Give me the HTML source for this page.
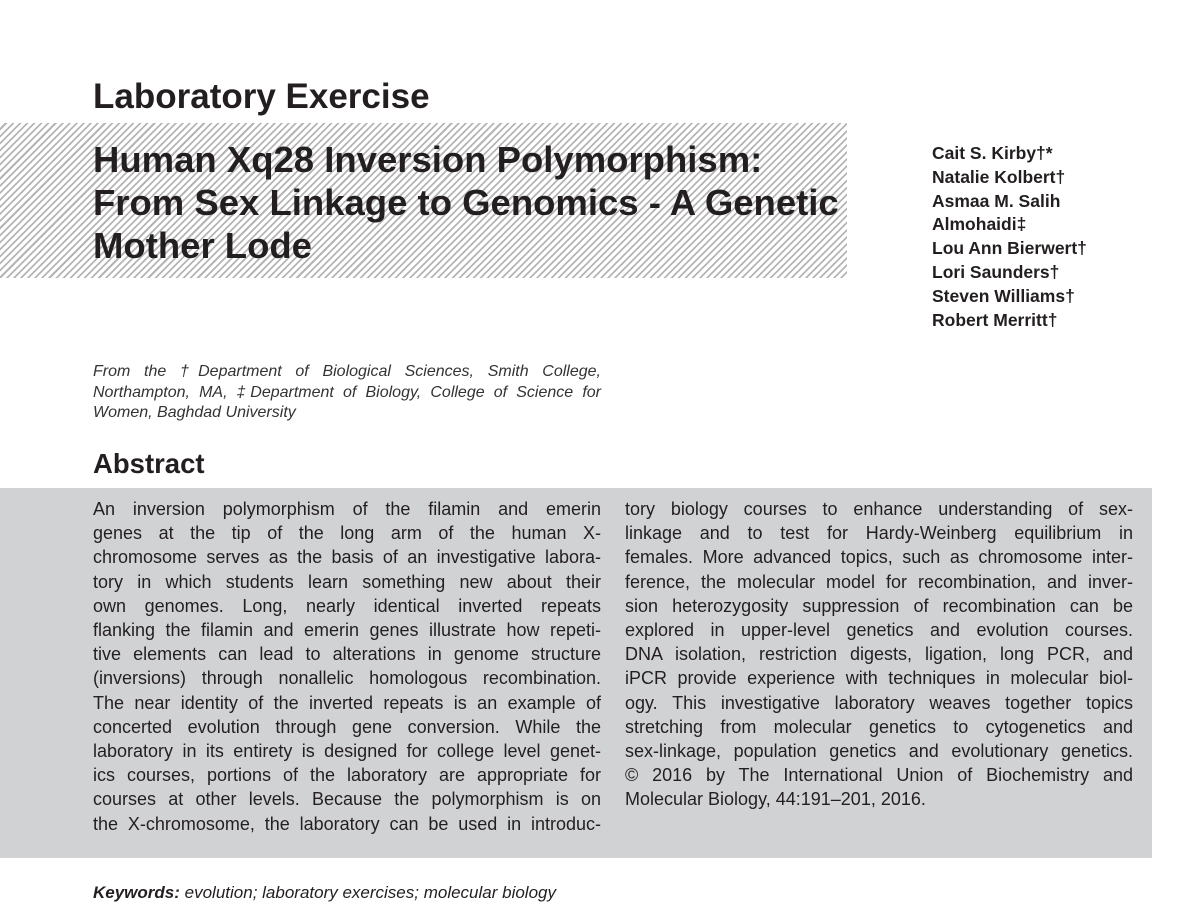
<!DOCTYPE html>
<html><head><meta charset="utf-8">
<style>
body{margin:0;width:1184px;height:912px;background:#fff;position:relative;overflow:hidden;font-family:"Liberation Sans",Arial,sans-serif;color:#231f20}
.abs{position:absolute;white-space:nowrap}
.hatch{position:absolute;left:0;top:123px;width:847px;height:155px;background:repeating-linear-gradient(-45deg,#fff 0,#fff 3.2px,#b5b5b5 3.2px,#b5b5b5 5px)}
.title{font-weight:bold;font-size:36.5px;left:93px;line-height:43px}
.auth{left:932px;font-weight:bold;font-size:17.5px;line-height:23.8px;top:142px}
.aff{left:93px;top:362px;width:508px;font-style:italic;font-size:16px;line-height:20.5px;color:#333;white-space:normal}
.aff div{text-align:justify;text-align-last:justify;white-space:nowrap}
.aff div.l{text-align-last:left}
.box{position:absolute;left:0;top:488px;width:1152px;height:370px;background:#d1d2d4}
.col{position:absolute;top:497px;width:508px;font-size:18px;line-height:24.2px}
.col div{text-align:justify;text-align-last:justify;white-space:nowrap}
.col div.l{text-align-last:left}
</style></head><body>
<div class="hatch"></div>
<div class="abs" style="left:93px;top:77px;font-size:35px;font-weight:bold">Laboratory Exercise</div>
<div class="abs title" style="top:138px">Human Xq28 Inversion Polymorphism:<br>From Sex Linkage to Genomics - A Genetic<br>Mother Lode</div>
<div class="abs auth">Cait S. Kirby†*<br>Natalie Kolbert†<br>Asmaa M. Salih<br>Almohaidi‡<br>Lou Ann Bierwert†<br>Lori Saunders†<br>Steven Williams†<br>Robert Merritt†</div>
<div class="abs aff"><div>From the †Department of Biological Sciences, Smith College,</div><div>Northampton, MA, ‡Department of Biology, College of Science for</div><div class="l">Women, Baghdad University</div></div>
<div class="abs" style="left:93px;top:448px;font-size:27.5px;font-weight:bold">Abstract</div>
<div class="box"></div>
<div class="col" style="left:93px">
<div>An inversion polymorphism of the filamin and emerin</div>
<div>genes at the tip of the long arm of the human X-</div>
<div>chromosome serves as the basis of an investigative labora-</div>
<div>tory in which students learn something new about their</div>
<div>own genomes. Long, nearly identical inverted repeats</div>
<div>flanking the filamin and emerin genes illustrate how repeti-</div>
<div>tive elements can lead to alterations in genome structure</div>
<div>(inversions) through nonallelic homologous recombination.</div>
<div>The near identity of the inverted repeats is an example of</div>
<div>concerted evolution through gene conversion. While the</div>
<div>laboratory in its entirety is designed for college level genet-</div>
<div>ics courses, portions of the laboratory are appropriate for</div>
<div>courses at other levels. Because the polymorphism is on</div>
<div>the X-chromosome, the laboratory can be used in introduc-</div>
</div>
<div class="col" style="left:625px">
<div>tory biology courses to enhance understanding of sex-</div>
<div>linkage and to test for Hardy-Weinberg equilibrium in</div>
<div>females. More advanced topics, such as chromosome inter-</div>
<div>ference, the molecular model for recombination, and inver-</div>
<div>sion heterozygosity suppression of recombination can be</div>
<div>explored in upper-level genetics and evolution courses.</div>
<div>DNA isolation, restriction digests, ligation, long PCR, and</div>
<div>iPCR provide experience with techniques in molecular biol-</div>
<div>ogy. This investigative laboratory weaves together topics</div>
<div>stretching from molecular genetics to cytogenetics and</div>
<div>sex-linkage, population genetics and evolutionary genetics.</div>
<div>© 2016 by The International Union of Biochemistry and</div>
<div class="l">Molecular Biology, 44:191–201, 2016.</div>
</div>
<div class="abs" style="left:93px;top:883px;font-size:17px;font-style:italic"><b>Keywords:</b> evolution; laboratory exercises; molecular biology</div>
</body></html>
